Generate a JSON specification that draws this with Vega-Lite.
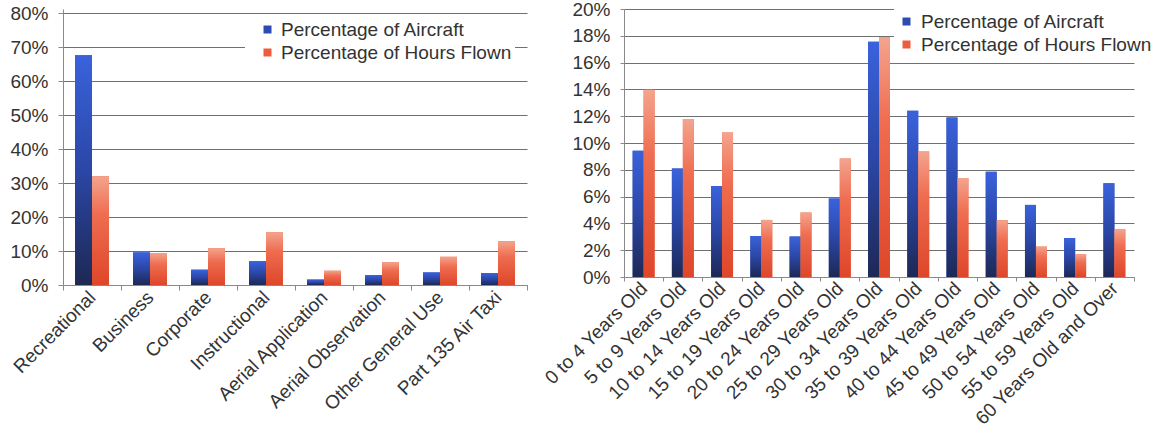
{
  "$schema": "https://vega.github.io/schema/vega-lite/v6.json",
  "padding": {"left": 9, "top": 0, "right": 0, "bottom": 0},
  "spacing": 13,
  "resolve": {
    "scale": {"color": "independent", "xOffset": "independent", "x": "independent", "y": "independent"},
    "legend": {"color": "independent"}
  },
  "config": {
    "view": {"stroke": null},
    "font": "Liberation Sans",
    "axis": {
      "labelFont": "Liberation Sans",
      "labelFontSize": 19,
      "labelColor": "#333333",
      "labelLimit": 400,
      "domainColor": "#8a8a8a",
      "tickColor": "#8a8a8a",
      "gridColor": "#707070",
      "gridWidth": 1
    },
    "legend": {
      "labelFont": "Liberation Sans",
      "labelFontSize": 19,
      "labelColor": "#333333",
      "symbolType": "square",
      "symbolSize": 64,
      "symbolStrokeWidth": 0,
      "fillColor": "white",
      "padding": 3,
      "rowPadding": 3,
      "labelLimit": 400
    }
  },
  "datasets": {
    "purpose": [
      {"category": "Recreational", "series": "Percentage of Aircraft", "value": 67.6},
      {"category": "Recreational", "series": "Percentage of Hours Flown", "value": 32.0},
      {"category": "Business", "series": "Percentage of Aircraft", "value": 9.6},
      {"category": "Business", "series": "Percentage of Hours Flown", "value": 9.4},
      {"category": "Corporate", "series": "Percentage of Aircraft", "value": 4.5},
      {"category": "Corporate", "series": "Percentage of Hours Flown", "value": 10.8},
      {"category": "Instructional", "series": "Percentage of Aircraft", "value": 7.0},
      {"category": "Instructional", "series": "Percentage of Hours Flown", "value": 15.5},
      {"category": "Aerial Application", "series": "Percentage of Aircraft", "value": 1.6},
      {"category": "Aerial Application", "series": "Percentage of Hours Flown", "value": 4.2},
      {"category": "Aerial Observation", "series": "Percentage of Aircraft", "value": 2.9},
      {"category": "Aerial Observation", "series": "Percentage of Hours Flown", "value": 6.7},
      {"category": "Other General Use", "series": "Percentage of Aircraft", "value": 3.7},
      {"category": "Other General Use", "series": "Percentage of Hours Flown", "value": 8.3},
      {"category": "Part 135 Air Taxi", "series": "Percentage of Aircraft", "value": 3.5},
      {"category": "Part 135 Air Taxi", "series": "Percentage of Hours Flown", "value": 12.9}
    ],
    "age": [
      {"category": "0 to 4 Years Old", "series": "Percentage of Aircraft", "value": 9.42},
      {"category": "0 to 4 Years Old", "series": "Percentage of Hours Flown", "value": 13.98},
      {"category": "5 to 9 Years Old", "series": "Percentage of Aircraft", "value": 8.1},
      {"category": "5 to 9 Years Old", "series": "Percentage of Hours Flown", "value": 11.79},
      {"category": "10 to 14 Years Old", "series": "Percentage of Aircraft", "value": 6.8},
      {"category": "10 to 14 Years Old", "series": "Percentage of Hours Flown", "value": 10.79},
      {"category": "15 to 19 Years Old", "series": "Percentage of Aircraft", "value": 3.06},
      {"category": "15 to 19 Years Old", "series": "Percentage of Hours Flown", "value": 4.26},
      {"category": "20 to 24 Years Old", "series": "Percentage of Aircraft", "value": 3.02},
      {"category": "20 to 24 Years Old", "series": "Percentage of Hours Flown", "value": 4.81},
      {"category": "25 to 29 Years Old", "series": "Percentage of Aircraft", "value": 5.86},
      {"category": "25 to 29 Years Old", "series": "Percentage of Hours Flown", "value": 8.85},
      {"category": "30 to 34 Years Old", "series": "Percentage of Aircraft", "value": 17.56},
      {"category": "30 to 34 Years Old", "series": "Percentage of Hours Flown", "value": 17.89},
      {"category": "35 to 39 Years Old", "series": "Percentage of Aircraft", "value": 12.41},
      {"category": "35 to 39 Years Old", "series": "Percentage of Hours Flown", "value": 9.37},
      {"category": "40 to 44 Years Old", "series": "Percentage of Aircraft", "value": 11.91},
      {"category": "40 to 44 Years Old", "series": "Percentage of Hours Flown", "value": 7.38},
      {"category": "45 to 49 Years Old", "series": "Percentage of Aircraft", "value": 7.85},
      {"category": "45 to 49 Years Old", "series": "Percentage of Hours Flown", "value": 4.24},
      {"category": "50 to 54 Years Old", "series": "Percentage of Aircraft", "value": 5.38},
      {"category": "50 to 54 Years Old", "series": "Percentage of Hours Flown", "value": 2.27},
      {"category": "55 to 59 Years Old", "series": "Percentage of Aircraft", "value": 2.91},
      {"category": "55 to 59 Years Old", "series": "Percentage of Hours Flown", "value": 1.7},
      {"category": "60 Years Old and Over", "series": "Percentage of Aircraft", "value": 7.0},
      {"category": "60 Years Old and Over", "series": "Percentage of Hours Flown", "value": 3.56}
    ]
  },
  "hconcat": [
    {
      "width": 464,
      "height": 276,
      "data": {"name": "purpose"},
      "encoding": {
        "x": {
          "field": "category", "type": "nominal", "sort": null,
          "scale": {"paddingInner": 0, "paddingOuter": 0},
          "axis": {"title": null, "labelAngle": -45, "labelAlign": "right", "labelBaseline": "middle", "tickBand": "extent", "tickSize": 5, "labelPadding": 4}
        },
        "xOffset": {
          "field": "series", "type": "nominal",
          "scale": {"paddingInner": 0, "paddingOuter": 0.71}
        },
        "y": {
          "field": "value", "type": "quantitative",
          "scale": {"domain": [0, 81.18], "nice": false, "zero": true},
          "axis": {"title": null, "values": [0, 10, 20, 30, 40, 50, 60, 70, 80], "tickSize": 5, "labelPadding": 10, "labelExpr": "datum.value + '%'"}
        }
      },
      "layer": [
        {
          "mark": {"type": "bar"},
          "encoding": {
            "color": {
              "field": "series", "type": "nominal",
              "scale": {"domain": ["Percentage of Aircraft", "Percentage of Hours Flown"], "range": ["#2c4cb4", "#ee5c3e"]},
              "legend": {"title": null, "orient": "none", "legendX": 182, "legendY": 8, "symbolOffset": 10, "labelOffset": 4}
            }
          }
        },
        {
          "transform": [{"filter": "datum.series === 'Percentage of Aircraft'"}],
          "mark": {"type": "bar", "fill": {"gradient": "linear", "x1": 0, "y1": 0, "x2": 0, "y2": 1, "stops": [{"offset": 0, "color": "#3a62dc"}, {"offset": 0.5, "color": "#2b47a6"}, {"offset": 1, "color": "#1d2854"}]}}
        },
        {
          "transform": [{"filter": "datum.series === 'Percentage of Hours Flown'"}],
          "mark": {"type": "bar", "fill": {"gradient": "linear", "x1": 0, "y1": 0, "x2": 0, "y2": 1, "stops": [{"offset": 0, "color": "#f4a48e"}, {"offset": 0.35, "color": "#ef6d50"}, {"offset": 1, "color": "#de4629"}]}}
        }
      ]
    },
    {
      "width": 510,
      "height": 268,
      "data": {"name": "age"},
      "encoding": {
        "x": {
          "field": "category", "type": "nominal", "sort": null,
          "scale": {"paddingInner": 0, "paddingOuter": 0},
          "axis": {"title": null, "labelAngle": -45, "labelAlign": "right", "labelBaseline": "middle", "tickBand": "extent", "tickSize": 4, "labelPadding": 4}
        },
        "xOffset": {
          "field": "series", "type": "nominal",
          "scale": {"paddingInner": 0, "paddingOuter": 0.79}
        },
        "y": {
          "field": "value", "type": "quantitative",
          "scale": {"domain": [0, 20], "nice": false},
          "axis": {"title": null, "values": [0, 2, 4, 6, 8, 10, 12, 14, 16, 18, 20], "tickSize": 4, "labelPadding": 10, "labelExpr": "datum.value + '%'"}
        }
      },
      "layer": [
        {
          "mark": {"type": "bar"},
          "encoding": {
            "color": {
              "field": "series", "type": "nominal",
              "scale": {"domain": ["Percentage of Aircraft", "Percentage of Hours Flown"], "range": ["#2c4cb4", "#ee5c3e"]},
              "legend": {"title": null, "orient": "none", "legendX": 270, "legendY": 0, "symbolOffset": 0, "labelOffset": 5}
            }
          }
        },
        {
          "transform": [{"filter": "datum.series === 'Percentage of Aircraft'"}],
          "mark": {"type": "bar", "fill": {"gradient": "linear", "x1": 0, "y1": 0, "x2": 0, "y2": 1, "stops": [{"offset": 0, "color": "#3a62dc"}, {"offset": 0.5, "color": "#2b47a6"}, {"offset": 1, "color": "#1d2854"}]}}
        },
        {
          "transform": [{"filter": "datum.series === 'Percentage of Hours Flown'"}],
          "mark": {"type": "bar", "fill": {"gradient": "linear", "x1": 0, "y1": 0, "x2": 0, "y2": 1, "stops": [{"offset": 0, "color": "#f4a48e"}, {"offset": 0.35, "color": "#ef6d50"}, {"offset": 1, "color": "#de4629"}]}}
        }
      ]
    }
  ]
}
